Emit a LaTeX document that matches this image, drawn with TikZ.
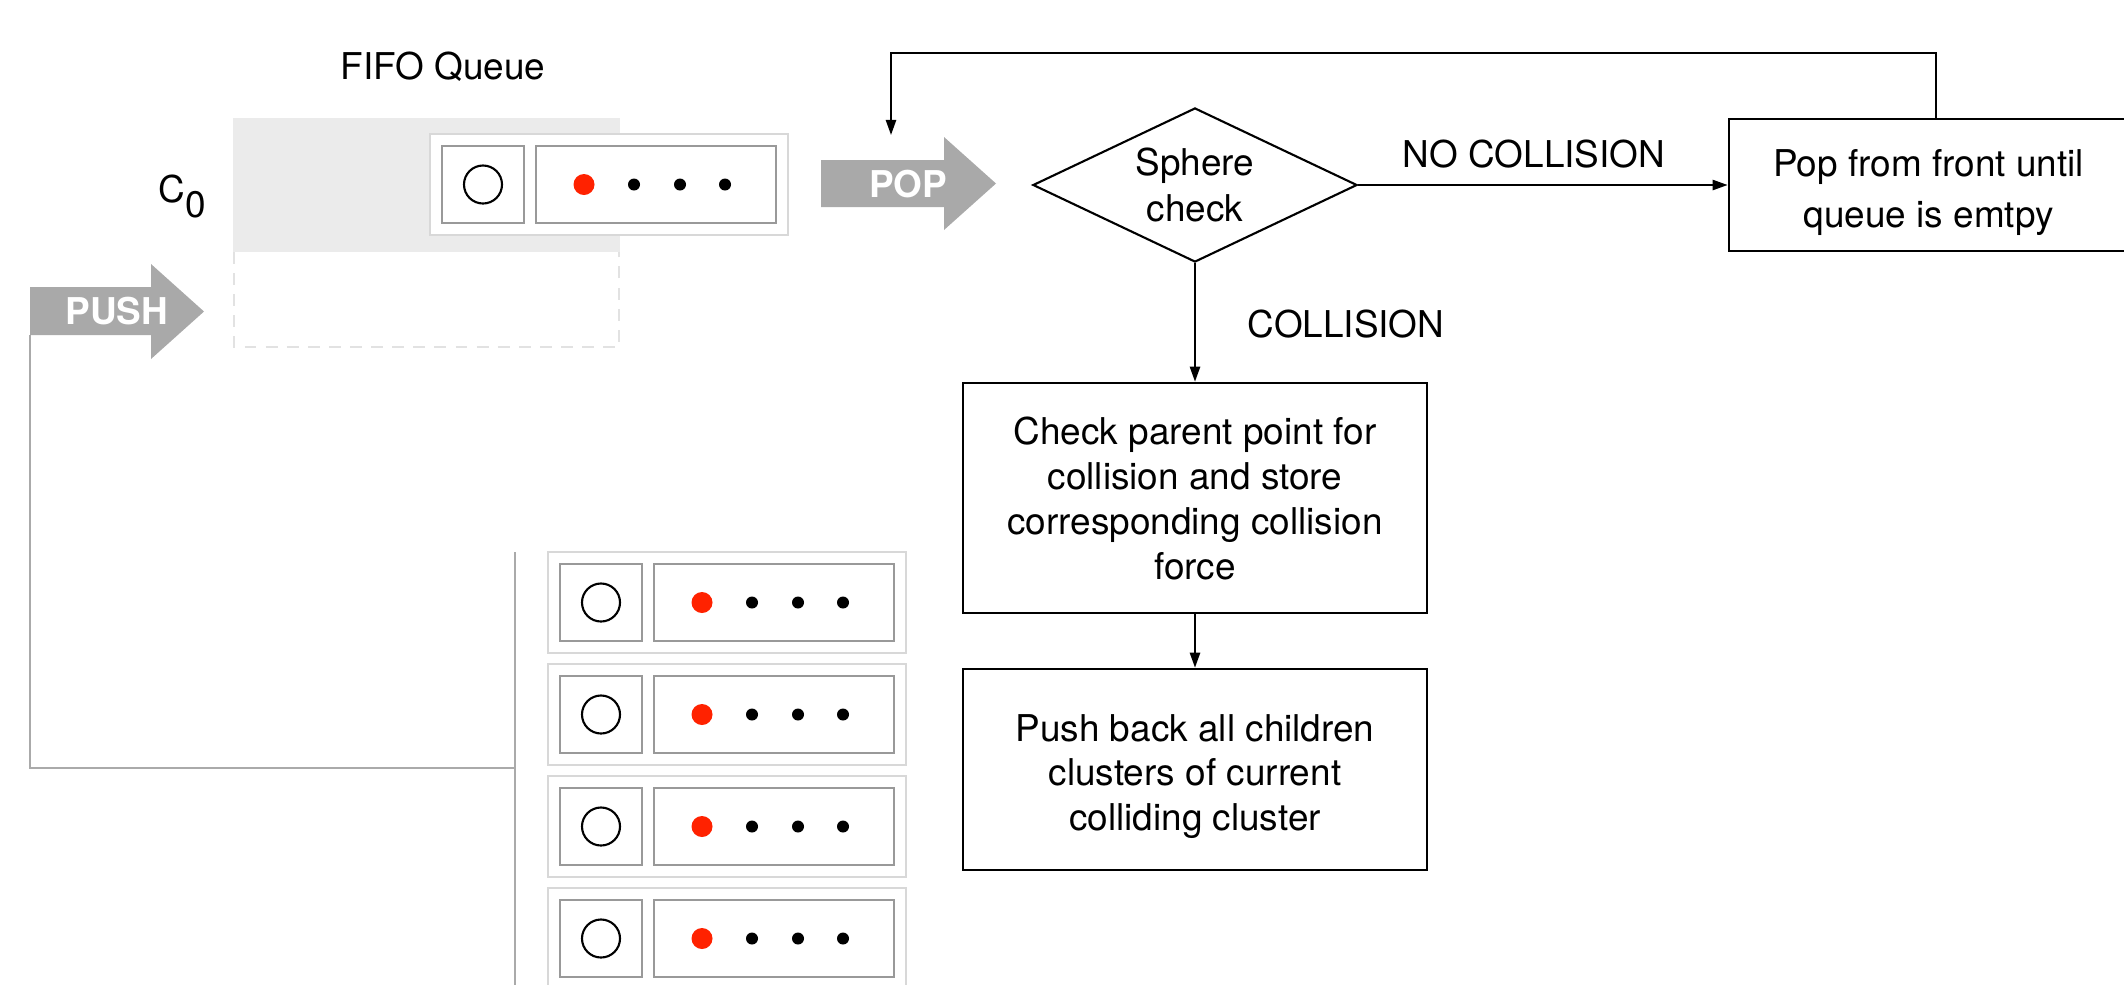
\documentclass[tikz,border=0pt]{standalone}
\usepackage{fontspec}
\setmainfont{TeX Gyre Heros}
\usetikzlibrary{arrows.meta,shapes.geometric}

\definecolor{queuefill}{HTML}{EBEBEB}
\definecolor{dashgray}{HTML}{E2E2E2}
\definecolor{outergray}{HTML}{D8D8D8}
\definecolor{innergray}{HTML}{999999}
\definecolor{arrowgray}{HTML}{A9A9A9}
\definecolor{linegray}{HTML}{AAAAAA}
\definecolor{hotred}{HTML}{FF2200}

\tikzset{
  lbl/.style={inner sep=0pt, font=\fontsize{10.5pt}{12.8pt}\selectfont},
  boldlbl/.style={inner sep=0pt, text=white, font=\fontsize{10.5pt}{12.8pt}\selectfont\bfseries},
  flowbox/.style={draw, line width=0.7pt, inner sep=0pt},
  boxtext/.style={inner sep=0pt, align=center},
  flow/.style={line width=0.6pt, -{Triangle[length=4.3pt,width=2.9pt]}},
  graybar/.style={linegray, line width=0.7pt},
  % one cluster record: sphere slot and point list
  cluster/.pic={
    \draw[outergray, line width=0.7pt, fill=white] (0,0) rectangle (358,101);
    \draw[innergray, line width=0.7pt] (12,12) rectangle (94,89);
    \draw[innergray, line width=0.7pt] (106,12) rectangle (346,89);
    \draw[line width=0.6pt] (53,50.5) circle[radius=0.19cm];
    \fill[hotred] (154,50.5) circle[radius=0.105cm];
    \foreach \dx in {204,250,295} \fill (\dx,50.5) circle[radius=0.06cm];
  }
}

\begin{document}
\begin{tikzpicture}[x=0.01cm, y=-0.01cm]
\useasboundingbox (0,0) rectangle (2124,984);

% queue body and its empty slot
\fill[queuefill] (233,118) rectangle (620,252);
\draw[dashgray, line width=0.6pt, dash pattern=on 3.4pt off 2.6pt]
  (234,252) -- (234,347) -- (619,347) -- (619,252);
\pic at (430,134) {cluster};

\node[lbl, anchor=base] (fifo) at (443,79) {FIFO Queue};
\node[lbl, anchor=base west] (czero) at (158,202) {C\raisebox{-0.15cm}{0}};

% push and pop arrows
\fill[arrowgray] (30,287) -- (151,287) -- (151,264) -- (204,311.5) -- (151,359)
  -- (151,335) -- (30,335) -- cycle;
\node[boldlbl] (pushlbl) at (117,311.5) {PUSH};
\fill[arrowgray] (821,160) -- (944,160) -- (944,137) -- (996,183.5) -- (944,230)
  -- (944,207) -- (821,207) -- cycle;
\node[boldlbl] (poplbl) at (908,184) {POP};

% children clusters fed back into the queue
\foreach \yy in {552,664,776,888} \pic at (548,\yy) {cluster};
\coordinate (pushfoot) at (30,335);
\coordinate (pushcorner) at (30,768);
\coordinate (bracketmid) at (515,768);
\coordinate (brackettop) at (515,552);
\coordinate (bracketbot) at (515,995);
\draw[graybar] (pushfoot) -- (pushcorner) -- (bracketmid);
\draw[graybar] (brackettop) -- (bracketbot);

% flowchart
\node[diamond, draw, line width=0.6pt, aspect=2.1, minimum width=3.24cm,
  minimum height=1.54cm, inner sep=0pt, align=center,
  font=\fontsize{10.5pt}{13pt}\selectfont] (sphere) at (1195,185) {Sphere\\check};

\node[flowbox, minimum width=3.99cm, minimum height=1.32cm] (popbox) at (1928.5,185) {};
\node[boxtext, font=\fontsize{10.5pt}{14.5pt}\selectfont] (poptext)
  at ([yshift=-0.075cm]popbox.center) {Pop from front until\\queue is emtpy};

\node[flowbox, minimum width=4.64cm, minimum height=2.30cm] (parent) at (1195,498) {};
\node[boxtext, font=\fontsize{10.5pt}{12.8pt}\selectfont] (parenttext)
  at (parent.center) {Check parent point for\\collision and store\\corresponding collision\\force};

\node[flowbox, minimum width=4.64cm, minimum height=2.01cm] (pushback) at (1195,769.5) {};
\node[boxtext, font=\fontsize{10.5pt}{12.7pt}\selectfont] (pushbacktext)
  at ([yshift=-0.07cm]pushback.center) {Push back all children\\clusters of current\\colliding cluster};

\draw[flow] (sphere.east) -- (popbox.west);
\draw[flow] (sphere.south) -- (parent.north);
\draw[flow] (parent.south) -- (pushback.north);

\coordinate (loopx) at (1936,53);
\coordinate (popin) at (891,135);
\draw[flow] (popbox.north -| loopx) -- (loopx) -| (popin);

\node[lbl, anchor=base] (nocol) at (1534,167) {NO COLLISION};
\node[lbl, anchor=base] (col) at (1346,337) {COLLISION};
\end{tikzpicture}
\end{document}
